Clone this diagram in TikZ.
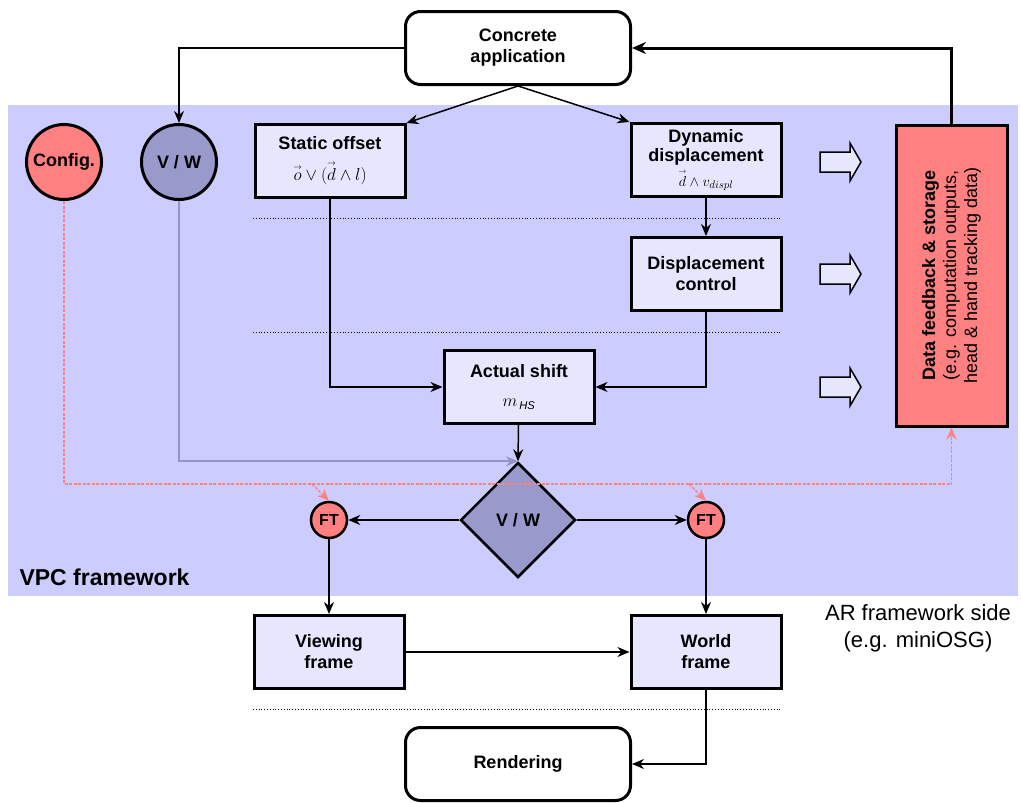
\documentclass[tikz,border=0pt]{standalone}
\usepackage{fontspec}
\usepackage{amsmath}
\setmainfont{Liberation Sans}
\usetikzlibrary{arrows.meta,shapes.geometric,calc}
\definecolor{vpcbg}{HTML}{CCCCFF}
\definecolor{boxfill}{HTML}{E6E6FF}
\definecolor{vwfill}{HTML}{9999CC}
\definecolor{redfill}{HTML}{FF8080}
\definecolor{grayline}{HTML}{9494C8}
\newcommand{\arrv}[1]{\overset{\scriptscriptstyle\rightarrow}{#1}}
\begin{document}
\begin{tikzpicture}[x=1pt,y=-1pt,
  box/.style={draw, line width=3pt, fill=boxfill, minimum width=150pt, minimum height=73pt, align=center, inner sep=2pt, font=\bfseries\fontsize{18}{21}\selectfont},
  rbox/.style={draw, line width=3pt, fill=white, rounded corners=15pt, minimum width=225pt, minimum height=73pt, align=center, font=\bfseries\fontsize{18}{21}\selectfont},
  circ/.style={circle, draw, line width=3pt, minimum size=75pt, inner sep=0pt, font=\bfseries\fontsize{18}{21}\selectfont},
  ftc/.style={circle, draw, line width=2.5pt, fill=redfill, minimum size=36pt, inner sep=0pt, font=\bfseries\fontsize{16}{16}\selectfont},
  conn/.style={line width=1.5pt, -{Stealth[length=12pt,width=10pt]}},
  redarr/.style={redfill, line width=1.5pt, dash pattern=on 3pt off 1.5pt, -{Stealth[length=12pt,width=10pt,fill=redfill]}},
  sep/.style={dotted, line width=0.8pt},
  hollow/.style={draw, line width=1.5pt, fill=boxfill}
]
\useasboundingbox (0,0) rectangle (1021,803);
\fill[vpcbg] (8,105) rectangle (1018,596);

% nodes
\node[rbox] (ca) at (518,48) {Concrete\\application};
\node[circ, fill=redfill] (cfg) at (64,162) {Config.};
\node[circ, fill=vwfill] (vw1) at (179,162) {V / W};
\node[box] (so) at (330,161) {Static offset\\[10pt]{\mdseries\fontsize{16}{16}\selectfont$\arrv{o}\vee(\arrv{d}\wedge l)$}};
\node[box, font=\bfseries\fontsize{18}{19}\selectfont] (dd) at (706,160) {Dynamic\\displacement\\[3pt]{\mdseries\fontsize{15}{15}\selectfont$\arrv{d}\wedge v_{displ}$}};
\node[box] (dc) at (706,274) {Displacement\\control};
\node[box] (as) at (519,387) {Actual shift\\[8pt]{\mdseries\fontsize{16}{16}\selectfont$m_{\,\mathit{HS}}$}};
\node[draw, line width=3pt, fill=redfill, minimum width=111pt, minimum height=301pt] (df) at (951.5,275.5) {};
\node[rotate=90, align=center, font=\fontsize{18}{21}\selectfont] (dft) at (df.center) {\textbf{Data feedback \& storage}\\(e.g. computation outputs,\\head \& hand tracking data)};
\node[diamond, draw, line width=2.5pt, fill=vwfill, minimum size=115pt, inner sep=0pt, font=\bfseries\fontsize{18}{21}\selectfont] (vwd) at (518,520) {V / W};
\node[ftc] (ftl) at (329,520) {FT};
\node[ftc] (ftr) at (706,520) {FT};
\node[box] (vf) at (329,652) {Viewing\\frame};
\node[box] (wf) at (706,652) {World\\frame};
\node[rbox] (ren) at (518,764) {Rendering};
\node[anchor=base west, font=\bfseries\fontsize{23}{23}\selectfont] (vpc) at (16,585) {VPC framework};
\node[align=center, font=\fontsize{22}{27}\selectfont] (ar) at (918,628) {AR framework side\\(e.g. miniOSG)};

% separators
\draw[sep] (253,218) -- (782,218);
\draw[sep] (253,332) -- (782,332);
\draw[sep] (253,709) -- (782,709);

% hollow arrows
\foreach \yy in {162,274,387}{
  \draw[hollow] (820,\yy-10) -- (850,\yy-10) -- (850,\yy-19) -- (861,\yy) -- (850,\yy+19) -- (850,\yy+10) -- (820,\yy+10) -- cycle;
}

% connectors
\draw[conn] (ca.west) -| (vw1.north);
\draw[conn] (ca.south) -- (so.north east);
\draw[conn] (ca.south) -- (dd.north west);
\draw[conn, line width=3pt, -{Stealth[length=14pt,width=12pt]}] (df.north) |- (ca.east);
\draw[conn] (dd) -- (dc);
\draw[conn] (so.south) |- (as.west);
\draw[conn] (dc.south) |- (as.east);
\draw[conn, grayline, line width=2pt] (vw1.south) |- (vwd.north);
\draw[conn] (as) -- (vwd.north);
\coordinate (rc) at (df.south |- 0,484);
\coordinate (rl) at (312,484);
\coordinate (rr) at (689,484);
\draw[redarr] (cfg.south) |- (rc) -- (df.south);
\draw[redarr] (rl) -- (ftl.north);
\draw[redarr] (rr) -- (ftr.north);
\draw[conn] (vwd.west) -- (ftl);
\draw[conn] (vwd.east) -- (ftr);
\draw[conn] (ftl) -- (vf);
\draw[conn] (ftr) -- (wf);
\draw[conn] (vf) -- (wf);
\draw[conn] (wf.south) |- (ren.east);
\end{tikzpicture}
\end{document}
